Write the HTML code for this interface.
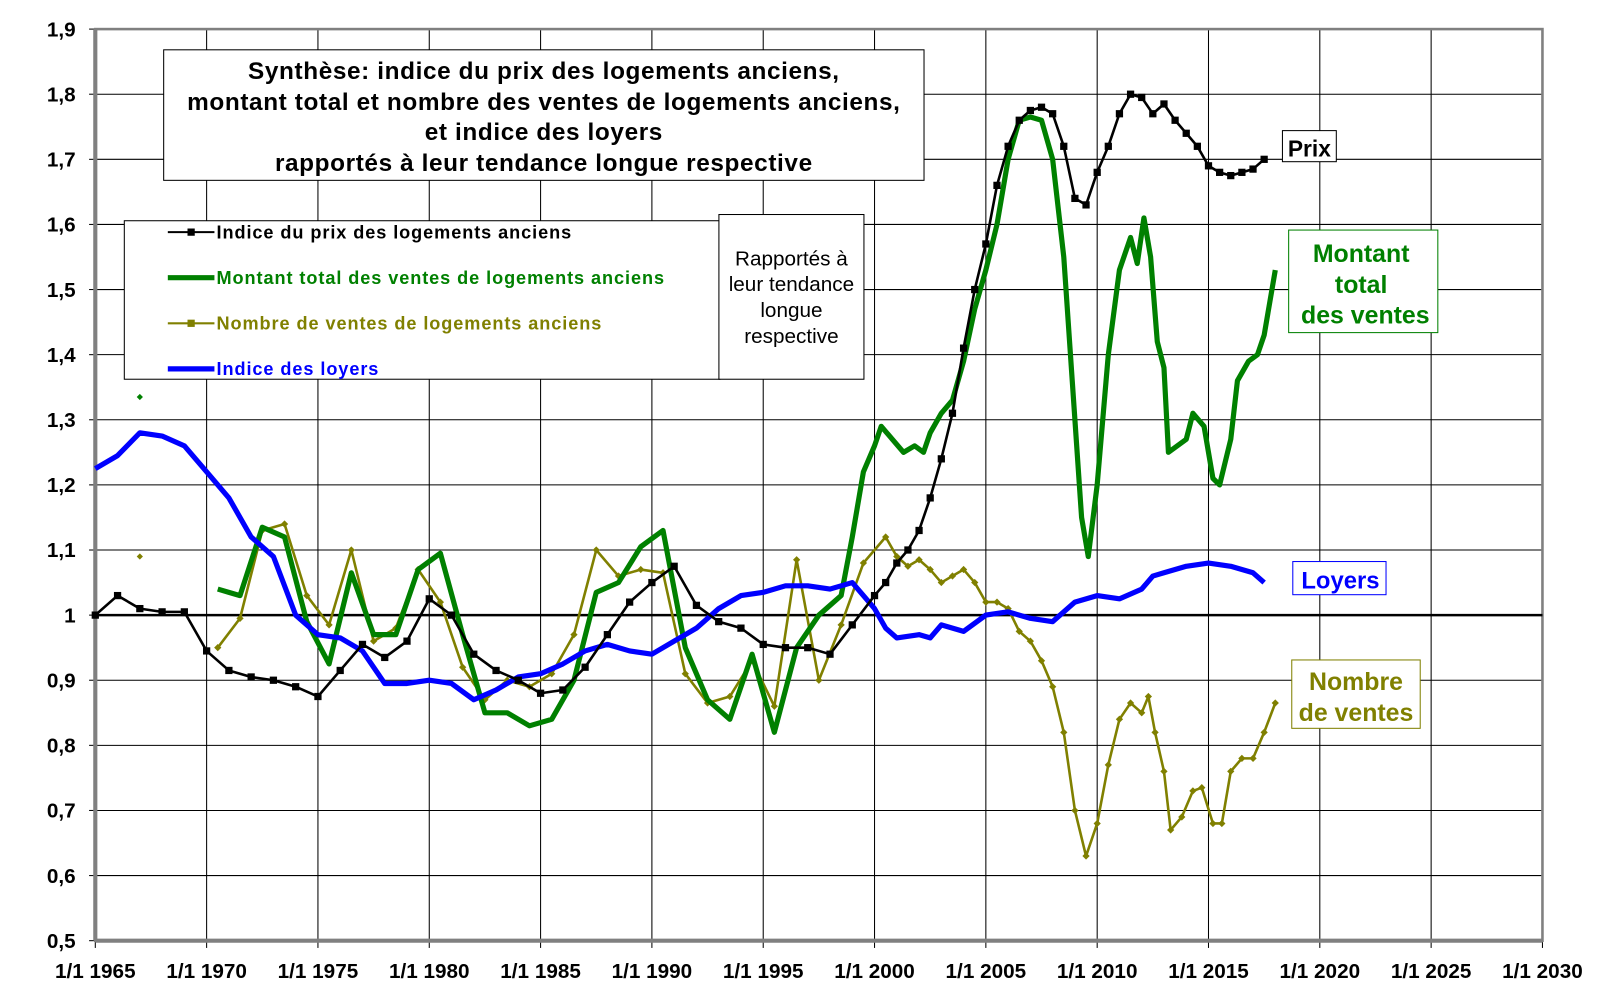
<!DOCTYPE html>
<html><head><meta charset="utf-8"><style>
html,body{margin:0;padding:0;background:#fff;}
svg{display:block;font-family:"Liberation Sans",Arial,sans-serif;}
</style></head><body>
<svg id="chart" width="1616" height="1005" viewBox="0 0 1560 970" xmlns="http://www.w3.org/2000/svg"></svg>
<script>
const yTicks=[0.5,0.6,0.7,0.8,0.9,1.0,1.1,1.2,1.3,1.4,1.5,1.6,1.7,1.8,1.9];
const yTickLabels=["0,5","0,6","0,7","0,8","0,9","1","1,1","1,2","1,3","1,4","1,5","1,6","1,7","1,8","1,9"];
const xTicks=[1965,1970,1975,1980,1985,1990,1995,2000,2005,2010,2015,2020,2025,2030];
const prixX=[1965,1966,1967,1968,1969,1970,1971,1972,1973,1974,1975,1976,1977,1978,1979,1980,1981,1982,1983,1984,1985,1986,1987,1988,1989,1990,1991,1992,1993,1994,1995,1996,1997,1998,1999,2000,2000.5,2001,2001.5,2002,2002.5,2003,2003.5,2004,2004.5,2005,2005.5,2006,2006.5,2007,2007.5,2008,2008.5,2009,2009.5,2010,2010.5,2011,2011.5,2012,2012.5,2013,2013.5,2014,2014.5,2015,2015.5,2016,2016.5,2017,2017.5];
const prixY=[1.0,1.03,1.01,1.005,1.005,0.945,0.915,0.905,0.9,0.89,0.875,0.915,0.955,0.935,0.96,1.025,1.0,0.94,0.915,0.9,0.88,0.885,0.92,0.97,1.02,1.05,1.075,1.015,0.99,0.98,0.955,0.95,0.95,0.94,0.985,1.03,1.05,1.08,1.1,1.13,1.18,1.24,1.31,1.41,1.5,1.57,1.66,1.72,1.76,1.775,1.78,1.77,1.72,1.64,1.63,1.68,1.72,1.77,1.8,1.795,1.77,1.785,1.76,1.74,1.72,1.69,1.68,1.675,1.68,1.685,1.7];
const montX=[1970.5,1971,1971.5,1972.5,1973.5,1974.5,1975.5,1976.5,1977.5,1978.5,1979.5,1980.5,1981.5,1982.5,1983.5,1984.5,1985.5,1986.5,1987.5,1988.5,1989.5,1990.5,1991.5,1992.5,1993.5,1994.5,1995.5,1996.5,1997.5,1998.5,1999,1999.5,2000,2000.3,2000.8,2001.3,2001.8,2002.2,2002.5,2003,2003.5,2004,2004.5,2005,2005.5,2006,2006.5,2007,2007.5,2008,2008.5,2009,2009.3,2009.6,2010,2010.5,2011,2011.5,2011.8,2012.1,2012.4,2012.7,2013,2013.2,2013.6,2014,2014.3,2014.8,2015.2,2015.5,2016,2016.3,2016.8,2017.2,2017.5,2018];
const montY=[1.04,1.035,1.03,1.135,1.12,0.99,0.925,1.065,0.97,0.97,1.07,1.095,0.97,0.85,0.85,0.83,0.84,0.9,1.035,1.05,1.105,1.13,0.95,0.87,0.84,0.94,0.82,0.95,1.0,1.03,1.12,1.22,1.26,1.29,1.27,1.25,1.26,1.25,1.28,1.31,1.33,1.39,1.47,1.53,1.6,1.7,1.76,1.765,1.76,1.7,1.55,1.3,1.15,1.09,1.2,1.4,1.53,1.58,1.54,1.61,1.55,1.42,1.38,1.25,1.26,1.27,1.31,1.29,1.21,1.2,1.27,1.36,1.39,1.4,1.43,1.53];
const nbX=[1970.5,1971.5,1972.5,1973.5,1974.5,1975.5,1976.5,1977.5,1978.5,1979.5,1980.5,1981.5,1982.5,1983.5,1984.5,1985.5,1986.5,1987.5,1988.5,1989.5,1990.5,1991.5,1992.5,1993.5,1994.5,1995.5,1996.5,1997.5,1998.5,1999.5,2000.5,2001,2001.5,2002,2002.5,2003,2003.5,2004,2004.5,2005,2005.5,2006,2006.5,2007,2007.5,2008,2008.5,2009,2009.5,2010,2010.5,2011,2011.5,2012,2012.3,2012.6,2013,2013.3,2013.8,2014.3,2014.7,2015.2,2015.6,2016,2016.5,2017,2017.5,2018];
const nbY=[0.95,0.995,1.13,1.14,1.03,0.985,1.1,0.96,0.98,1.07,1.02,0.92,0.87,0.9,0.89,0.91,0.97,1.1,1.06,1.07,1.065,0.91,0.865,0.875,0.93,0.86,1.085,0.9,0.985,1.08,1.12,1.09,1.075,1.085,1.07,1.05,1.06,1.07,1.05,1.02,1.02,1.01,0.975,0.96,0.93,0.89,0.82,0.7,0.63,0.68,0.77,0.84,0.865,0.85,0.875,0.82,0.76,0.67,0.69,0.73,0.735,0.68,0.68,0.76,0.78,0.78,0.82,0.865];
const loyX=[1965,1966,1967,1968,1969,1970,1971,1972,1973,1974,1975,1976,1977,1978,1979,1980,1981,1982,1983,1984,1985,1986,1987,1988,1989,1990,1991,1992,1993,1994,1995,1996,1997,1998,1999,2000,2000.5,2001,2002,2002.5,2003,2004,2005,2006,2007,2008,2009,2010,2011,2012,2012.5,2013,2014,2015,2016,2017,2017.5];
const loyY=[1.225,1.245,1.28,1.275,1.26,1.22,1.18,1.12,1.09,1.0,0.97,0.965,0.945,0.895,0.895,0.9,0.895,0.87,0.885,0.905,0.91,0.925,0.945,0.955,0.945,0.94,0.96,0.98,1.01,1.03,1.035,1.045,1.045,1.04,1.05,1.01,0.98,0.965,0.97,0.965,0.985,0.975,1.0,1.005,0.995,0.99,1.02,1.03,1.025,1.04,1.06,1.065,1.075,1.08,1.075,1.065,1.05];

const NS="http://www.w3.org/2000/svg";
const svg=document.getElementById('chart');
const X0=92,X1=1489,Y0=908,Y1=28;
const xs=v=>X0+(v-1965)/(2030-1965)*(X1-X0);
const ys=v=>Y0-(v-0.5)/(1.9-0.5)*(Y0-Y1);
function mk(tag,attrs,parent){const e=document.createElementNS(NS,tag);for(const k in attrs)e.setAttribute(k,attrs[k]);(parent||svg).appendChild(e);return e;}

const grid=mk('g',{});


yTicks.forEach((t,i)=>{
  const y=ys(t);
  if(t>0.5&&t<1.9) mk('line',{x1:X0,x2:X1,y1:y,y2:y,stroke:'#000','stroke-width':1},grid);
  mk('line',{x1:X0-6,x2:X0,y1:y,y2:y,stroke:'#000','stroke-width':1},grid);
  const tx=mk('text',{x:73,y:y+7,'text-anchor':'end','font-size':20,'font-weight':'bold'});
  
  
  tx.textContent=yTickLabels[i];
});
xTicks.forEach(t=>{
  const x=xs(t);
  if(t>1965&&t<2030) mk('line',{x1:x,x2:x,y1:Y1,y2:Y0,stroke:'#000','stroke-width':1},grid);
  mk('line',{x1:x,x2:x,y1:Y0,y2:Y0+7,stroke:'#000','stroke-width':1},grid);
  const tx=mk('text',{x:x,y:944,'text-anchor':'middle','font-size':20,'font-weight':'bold'});
  
  
  tx.textContent='1/1 '+t;
});
mk('rect',{x:X0,y:Y1,width:X1-X0,height:Y0-Y1,fill:'none',stroke:'#808080','stroke-width':2.5});
mk('line',{x1:X0,x2:X0,y1:Y1,y2:Y0,stroke:'#808080','stroke-width':4});
mk('line',{x1:X0,x2:X1,y1:Y0,y2:Y0,stroke:'#808080','stroke-width':4});
const ref=mk('line',{x1:X0,x2:X1,y1:ys(1),y2:ys(1),stroke:'#000','stroke-width':2.5});



function series(xa,ya,color,w,name,marker){
  const g=mk('g',{});
  
  
  mk('polyline',{points:xa.map((x,i)=>xs(x)+','+ys(ya[i])).join(' '),fill:'none',stroke:color,'stroke-width':w,'stroke-linejoin':'round'},g);
  if(marker==='square') xa.forEach((x,i)=>mk('rect',{x:xs(x)-3.5,y:ys(ya[i])-3.5,width:7,height:7,fill:color},g));
  if(marker==='diamond') xa.forEach((x,i)=>{const cx=xs(x),cy=ys(ya[i]);mk('polygon',{points:`${cx},${cy-3.5} ${cx+3.5},${cy} ${cx},${cy+3.5} ${cx-3.5},${cy}`,fill:color},g);});
}
series(nbX,nbY,'#808000',2.5,'series-nombre-ventes','diamond');
series(montX,montY,'#008000',5,'series-montant-total','none');
series(loyX,loyY,'#0000ff',5,'series-loyers','none');
series(prixX,prixY,'#000',2.5,'series-prix','square');
mk('polygon',{points:`${xs(1967)},${ys(1.335)-3} ${xs(1967)+3},${ys(1.335)} ${xs(1967)},${ys(1.335)+3} ${xs(1967)-3},${ys(1.335)}`,fill:'#008000'});
mk('polygon',{points:`${xs(1967)},${ys(1.09)-3} ${xs(1967)+3},${ys(1.09)} ${xs(1967)},${ys(1.09)+3} ${xs(1967)-3},${ys(1.09)}`,fill:'#808000'});

function box(x,y,w,h,stroke,name){const r=mk('rect',{x:x,y:y,width:w,height:h,fill:'#fff',stroke:stroke,'stroke-width':1});}
function txt(x,y,s,size,color,anchor,name,weight,ls){const t=mk('text',{x:x,y:y,'font-size':size,fill:color,'text-anchor':anchor,'font-weight':weight||'bold','letter-spacing':ls||0});t.textContent=s;}
box(158,48,734,126,'#000','title-box');
txt(525,76,'Synthèse: indice du prix des logements anciens,',23.5,'#000','middle','chart-title','bold',0.6);
txt(525,106,'montant total et nombre des ventes de logements anciens,',23.5,'#000','middle','chart-title','bold',0.6);
txt(525,135,'et indice des loyers',23.5,'#000','middle','chart-title','bold',0.6);
txt(525,165,'rapportés à leur tendance longue respective',23.5,'#000','middle','chart-title','bold',0.6);
box(120,213,575,153,'#000','legend-box');
const leg=[['Indice du prix des logements anciens','#000',2,224],['Montant total des ventes de logements anciens','#008000',5,268],['Nombre de ventes de logements anciens','#808000',2,312],['Indice des loyers','#0000ff',5,356]];
leg.forEach(l=>{
  const g=mk('g',{});
  
  
  mk('line',{x1:162,x2:207,y1:l[3],y2:l[3],stroke:l[1],'stroke-width':l[2]},g);
  if(l[2]===2) mk('rect',{x:181,y:l[3]-3.5,width:7,height:7,fill:l[1]},g);
  const t=mk('text',{x:209,y:l[3]+6,'font-size':17.5,'font-weight':'bold',fill:l[1],'letter-spacing':0.9},g);t.textContent=l[0];
});
box(694,207,140,159,'#000','note-box');
['Rapportés à','leur tendance','longue','respective'].forEach((s,i)=>txt(764,256+i*25,s,20,'#000','middle','note-text','normal'));
box(1238,126,52,30,'#000','label-prix-box');
txt(1264,151,'Prix',22,'#000','middle','label-prix');
box(1244,222,144,99,'#008000','label-montant-box');
txt(1314,253,'Montant',24,'#008000','middle','label-montant');
txt(1314,283,'total',24,'#008000','middle','label-montant');
txt(1318,312,'des ventes',24,'#008000','middle','label-montant');
box(1248,542,90,32,'#0000ff','label-loyers-box');
txt(1294,568,'Loyers',23,'#0000ff','middle','label-loyers');
box(1247,637,124,66,'#808000','label-nombre-box');
txt(1309,666,'Nombre',24,'#808000','middle','label-nombre');
txt(1309,696,'de ventes',24,'#808000','middle','label-nombre');
</script>
</body></html>
